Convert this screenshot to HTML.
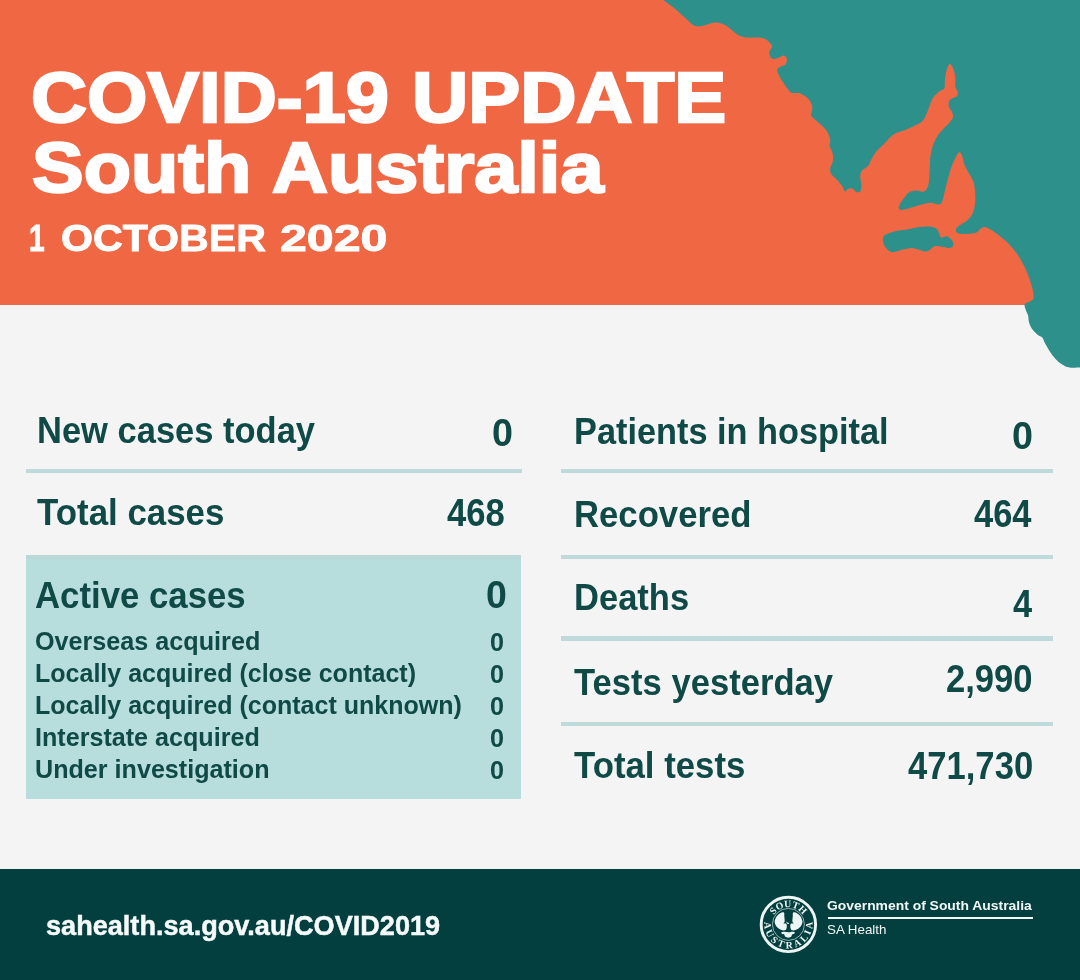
<!DOCTYPE html>
<html lang="en">
<head>
<meta charset="utf-8">
<title>COVID-19 Update South Australia</title>
<style>
html,body{margin:0;padding:0;}
body{width:1080px;height:980px;position:relative;overflow:hidden;background:#f4f4f5;font-family:"Liberation Sans",sans-serif;}
.t{position:absolute;white-space:nowrap;line-height:1;transform-origin:0 0;font-weight:bold;color:#0f4a47;}
#banner{position:absolute;left:0;top:0;width:1080px;height:305px;background:#f06744;}
#map{position:absolute;left:0;top:0;width:1080px;height:400px;}
.title,.date{color:#fff;}
.title{-webkit-text-stroke:2.4px #fff;}
.date{-webkit-text-stroke:0.9px #fff;}
.rule{position:absolute;height:4.4px;background:#bedadb;}
#box{position:absolute;left:25.6px;top:555.2px;width:495.5px;height:244.1px;background:#b8dddd;}
#footer{position:absolute;left:0;top:868.5px;width:1080px;height:111.5px;background:#033f3e;}
.url,.gov,.sah{color:#f2f7f7;}
.url{-webkit-text-stroke:0.5px #f6fafa;color:#f6fafa;}
.sah{font-weight:normal;}
#govrule{position:absolute;left:828px;top:916.5px;width:204.5px;height:2.4px;background:#f2f7f7;}
#logo{position:absolute;left:756px;top:892px;width:64px;height:64px;}
</style>
</head>
<body>
<div id="banner"></div>
<svg id="map" viewBox="0 0 1080 400">
<path fill="#2d908b" d="M663.2 0.0C664.5 0.9 668.1 3.5 670.8 5.6C673.5 7.7 676.4 10.1 679.2 12.5C682.0 14.9 685.2 18.0 687.5 20.1C689.8 22.2 691.1 23.9 693.0 25.0C694.9 26.1 696.5 26.4 698.6 26.4C700.7 26.4 703.3 25.6 705.6 25.0C707.9 24.4 710.2 23.2 712.5 22.9C714.8 22.5 717.1 22.4 719.4 22.9C721.7 23.4 724.1 24.3 726.4 25.7C728.7 27.1 731.2 29.7 733.3 31.3C735.4 32.9 736.6 34.4 738.9 35.4C741.2 36.4 744.0 37.1 747.2 37.5C750.4 37.9 755.3 37.3 758.3 37.5C761.3 37.7 763.4 38.1 765.3 38.9C767.1 39.7 768.2 41.1 769.4 42.4C770.5 43.7 772.2 45.0 772.2 46.5C772.2 48.0 769.8 49.8 769.4 51.4C769.0 53.0 769.4 55.0 770.1 56.3C770.8 57.6 772.1 58.8 773.6 59.0C775.1 59.2 777.5 58.2 779.2 57.6C780.9 57.0 782.7 55.4 784.0 55.6C785.3 55.8 786.6 57.5 786.8 59.0C787.0 60.5 786.4 63.3 785.4 64.6C784.4 65.9 782.0 65.9 780.6 66.7C779.2 67.5 777.3 67.9 777.1 69.4C776.9 70.9 778.2 73.5 779.2 75.7C780.2 77.9 781.9 80.4 783.3 82.6C784.6 84.8 785.9 86.9 787.3 88.6C788.7 90.3 789.8 92.2 791.6 92.9C793.5 93.6 796.0 92.3 798.4 92.9C800.8 93.5 803.7 95.0 805.7 96.5C807.7 98.0 809.5 100.0 810.6 102.0C811.7 104.0 812.3 106.0 812.4 108.2C812.5 110.5 810.5 113.4 811.2 115.5C811.9 117.6 814.8 119.2 816.7 121.0C818.7 122.8 821.0 124.5 822.9 126.5C824.8 128.4 826.6 130.4 827.8 132.7C829.0 134.9 829.9 137.8 830.2 140.0C830.5 142.2 829.2 143.8 829.6 146.1C830.0 148.3 832.2 150.8 832.7 153.5C833.2 156.2 833.1 159.6 832.7 162.0C832.3 164.4 830.4 166.1 830.2 168.2C830.0 170.2 830.2 172.3 831.4 174.3C832.6 176.3 835.8 178.4 837.6 180.4C839.4 182.4 841.2 184.7 842.4 186.5C843.6 188.3 844.0 191.0 844.9 191.4C845.8 191.8 846.8 189.5 848.0 189.0C849.2 188.5 850.8 187.9 852.2 188.4C853.6 188.9 855.2 191.5 856.5 192.0C857.8 192.5 859.4 192.5 860.2 191.4C861.0 190.3 861.4 187.8 861.4 185.3C861.4 182.9 860.1 179.1 860.2 176.7C860.3 174.2 860.7 172.4 862.0 170.6C863.3 168.8 866.6 167.7 868.2 165.7C869.8 163.7 870.4 160.8 871.8 158.4C873.2 156.0 874.7 153.4 876.7 151.0C878.8 148.6 881.3 146.4 884.1 143.7C886.9 140.9 890.1 136.8 893.5 134.5C896.9 132.2 900.8 131.7 904.5 130.2C908.2 128.7 912.4 126.9 915.5 125.3C918.6 123.7 921.0 122.6 922.9 120.4C924.8 118.2 925.9 115.2 927.1 112.4C928.3 109.7 929.1 106.6 930.2 103.9C931.3 101.2 932.3 98.7 933.9 96.5C935.5 94.3 938.3 92.3 940.0 91.0C941.7 89.7 943.5 90.3 944.3 88.6C945.1 86.9 944.6 83.4 944.9 80.6C945.2 77.8 945.5 74.5 946.1 72.0C946.7 69.5 947.9 66.6 948.6 65.3C949.3 64.0 949.6 63.4 950.4 64.1C951.2 64.8 952.7 67.2 953.5 69.6C954.3 71.9 955.0 75.3 955.3 78.2C955.6 81.1 954.9 84.4 955.3 86.7C955.7 89.0 957.6 90.6 957.8 92.2C958.0 93.8 957.6 95.4 956.5 96.5C955.4 97.6 952.3 98.0 951.0 99.0C949.7 100.0 948.9 101.3 948.6 102.7C948.3 104.1 948.6 106.0 949.2 107.6C949.8 109.2 951.6 110.8 952.2 112.4C952.8 114.0 953.3 115.7 952.9 117.3C952.5 118.9 951.3 120.3 949.8 122.2C948.3 124.1 945.7 126.2 943.7 128.4C941.7 130.7 939.3 133.0 937.6 135.7C935.9 138.3 934.4 141.2 933.3 144.3C932.2 147.4 931.3 151.1 930.8 154.1C930.2 157.1 930.2 158.8 930.0 162.2C929.8 165.6 929.7 170.6 929.4 174.5C929.1 178.4 929.1 182.7 928.2 185.5C927.3 188.3 925.9 190.8 923.9 191.6C921.9 192.4 919.0 190.3 916.5 190.4C914.0 190.5 911.2 191.0 909.2 192.2C907.2 193.4 905.8 195.9 904.3 197.8C902.8 199.8 900.9 202.2 900.0 203.9C899.1 205.6 898.4 207.2 898.8 208.2C899.2 209.2 900.3 210.1 902.4 210.0C904.5 209.9 908.4 208.5 911.6 207.6C914.8 206.7 918.1 205.3 921.4 204.5C924.7 203.7 928.3 202.7 931.2 202.7C934.1 202.7 936.8 204.7 938.6 204.5C940.4 204.3 941.2 203.6 942.2 201.4C943.2 199.2 943.8 195.3 944.7 191.6C945.6 187.9 946.7 183.5 947.8 179.4C948.9 175.3 950.1 170.8 951.4 167.1C952.7 163.4 954.5 159.8 955.7 157.3C956.9 154.9 957.8 152.8 958.8 152.4C959.8 152.0 960.8 152.7 961.8 154.9C962.8 157.2 963.5 162.4 964.9 165.9C966.3 169.4 968.9 172.6 970.4 175.7C971.9 178.8 973.3 180.4 974.1 184.3C974.9 188.2 975.4 194.5 975.3 199.0C975.2 203.5 974.7 207.7 973.5 211.2C972.3 214.7 970.1 217.6 968.0 219.8C965.9 222.1 962.6 223.3 960.6 224.7C958.6 226.1 956.9 227.1 956.3 228.4C955.7 229.7 955.6 231.8 956.9 232.7C958.2 233.6 961.1 233.9 964.3 233.9C967.5 233.9 973.2 233.5 975.9 232.7C978.5 231.9 978.8 229.9 980.2 229.0C981.6 228.1 982.6 226.9 984.5 227.1C986.4 227.3 988.9 228.4 991.8 230.2C994.6 231.9 998.3 234.8 1001.6 237.6C1004.9 240.3 1008.5 243.5 1011.4 246.7C1014.3 249.8 1016.5 253.0 1018.8 256.5C1021.0 260.0 1023.1 263.7 1024.9 267.6C1026.7 271.5 1028.5 275.9 1029.8 279.8C1031.1 283.7 1032.3 287.7 1032.9 290.8C1033.5 293.9 1033.9 296.5 1033.5 298.2C1033.1 299.9 1031.9 300.2 1030.4 301.2C1028.9 302.2 1025.4 302.8 1024.7 304.3C1024.0 305.8 1025.4 308.5 1026.0 310.4C1026.6 312.3 1027.6 313.4 1028.1 315.5C1028.6 317.6 1028.3 320.3 1029.1 322.7C1029.9 325.1 1031.2 327.8 1032.7 329.8C1034.2 331.8 1036.2 333.6 1037.8 334.9C1039.4 336.2 1041.1 336.0 1042.3 337.4C1043.5 338.8 1043.8 341.0 1044.9 343.1C1046.0 345.2 1047.3 347.6 1049.0 350.2C1050.7 352.8 1052.9 356.0 1055.1 358.4C1057.3 360.8 1059.8 363.0 1062.2 364.5C1064.6 366.0 1066.4 367.1 1069.4 367.6C1072.4 368.1 1078.2 367.6 1080.0 367.6L1080 0Z"/>
<path fill="#2d908b" d="M882.9 238.2C883.2 236.5 884.0 235.6 885.9 234.5C887.8 233.4 891.0 232.2 894.5 231.4C898.0 230.6 902.6 230.3 906.7 229.6C910.8 228.9 915.3 227.6 919.0 227.1C922.7 226.6 925.9 226.3 928.8 226.5C931.6 226.7 934.4 227.3 936.1 228.4C937.8 229.5 938.4 231.8 939.2 233.3C940.0 234.8 939.7 237.1 941.0 237.6C942.3 238.1 945.3 235.8 947.1 236.3C948.9 236.8 951.0 239.1 952.0 240.6C953.0 242.1 953.7 244.3 953.3 245.5C952.9 246.7 951.5 247.8 949.6 248.0C947.8 248.2 944.7 247.0 942.2 246.7C939.8 246.4 936.9 245.6 934.9 246.1C932.9 246.6 931.6 248.9 930.0 249.8C928.4 250.7 926.9 251.6 925.1 251.6C923.3 251.6 921.2 250.4 919.0 249.8C916.8 249.2 914.5 248.0 911.6 248.0C908.7 248.0 904.8 249.1 901.8 249.8C898.8 250.5 895.5 252.1 893.3 252.2C891.1 252.3 889.9 251.6 888.4 250.4C886.9 249.2 885.0 246.9 884.1 244.9C883.2 242.9 882.6 239.9 882.9 238.2Z"/>
</svg>
<div class="rule" style="left:25.6px;top:469.1px;width:496px;"></div>
<div id="box"></div>
<div class="rule" style="left:25.6px;top:555.2px;width:495.5px;height:3.8px;background:#bbd8d9;"></div>
<div class="rule" style="left:561px;top:469.1px;width:492px;"></div>
<div class="rule" style="left:561px;top:554.7px;width:492px;"></div>
<div class="rule" style="left:561px;top:636.3px;width:492px;"></div>
<div class="rule" style="left:561px;top:721.8px;width:492px;"></div>
<div id="footer"></div>
<div id="govrule"></div>
<svg id="logo" viewBox="0 0 64 64">
<defs><path id="arcTop" d="M17.50 23.80A17.2 17.2 0 0 1 47.30 23.80"/><path id="arcBot" d="M8.76 28.23A24.0 24.0 0 1 0 56.04 28.23"/></defs>
<circle cx="32.4" cy="32.4" r="27.2" fill="none" stroke="#eef6f5" stroke-width="2.9"/>
<circle cx="32.4" cy="32.4" r="16" fill="none" stroke="#eef6f5" stroke-width="0.8" opacity="0.75"/>
<path fill="#eef6f5" d="M27.90 20.40C27.22 19.90 25.38 20.57 24.20 21.20C23.02 21.83 21.72 22.88 20.80 24.20C19.88 25.52 18.88 27.60 18.70 29.10C18.52 30.60 19.05 31.97 19.70 33.20C20.35 34.43 21.50 35.65 22.60 36.50C23.70 37.35 25.15 38.03 26.30 38.30C27.45 38.57 28.78 38.47 29.50 38.10C30.22 37.73 30.38 36.92 30.60 36.10C30.82 35.28 30.90 33.95 30.80 33.20C30.70 32.45 30.55 31.93 30.00 31.60C29.45 31.27 27.72 31.55 27.50 31.20C27.28 30.85 28.57 30.67 28.70 29.50C28.83 28.33 28.43 25.72 28.30 24.20C28.17 22.68 28.58 20.90 27.90 20.40Z"/>
<path fill="#eef6f5" d="M37.20 20.40C37.88 19.90 39.72 20.57 40.90 21.20C42.08 21.83 43.38 22.88 44.30 24.20C45.22 25.52 46.22 27.60 46.40 29.10C46.58 30.60 46.05 31.97 45.40 33.20C44.75 34.43 43.60 35.65 42.50 36.50C41.40 37.35 39.95 38.03 38.80 38.30C37.65 38.57 36.32 38.47 35.60 38.10C34.88 37.73 34.72 36.92 34.50 36.10C34.28 35.28 34.20 33.95 34.30 33.20C34.40 32.45 34.55 31.93 35.10 31.60C35.65 31.27 37.38 31.55 37.60 31.20C37.82 30.85 36.53 30.67 36.40 29.50C36.27 28.33 36.67 25.72 36.80 24.20C36.93 22.68 36.52 20.90 37.20 20.40Z"/>
<path fill="#eef6f5" d="M25.10 40.60C25.43 40.22 27.08 39.77 28.30 39.70C29.52 39.63 31.03 40.20 32.40 40.20C33.77 40.20 35.42 39.63 36.50 39.70C37.58 39.77 38.63 40.25 38.90 40.60C39.17 40.95 38.57 41.47 38.10 41.80C37.63 42.13 36.57 42.13 36.10 42.60C35.63 43.07 35.92 44.08 35.30 44.60C34.68 45.12 33.43 45.70 32.40 45.70C31.37 45.70 29.78 45.12 29.10 44.60C28.42 44.08 28.77 43.03 28.30 42.60C27.83 42.17 26.83 42.33 26.30 42.00C25.77 41.67 24.77 40.98 25.10 40.60Z"/>
<path fill="#eef6f5" d="M30.0 29.5L33.3 31.5L31.8 32.2L30.8 31.0Z"/>
<text font-family="'Liberation Serif',serif" font-weight="bold" font-size="9.8" fill="#eef6f5" text-anchor="middle"><textPath href="#arcTop" startOffset="50%" textLength="34" lengthAdjust="spacing">SOUTH</textPath></text>
<text font-family="'Liberation Serif',serif" font-weight="bold" font-size="9.8" fill="#eef6f5" text-anchor="middle"><textPath href="#arcBot" startOffset="50%" textLength="80" lengthAdjust="spacing">AUSTRALIA</textPath></text>
</svg>
<div class="t title" id="w1" style="left:31.11px;top:63.00px;font-size:70.5px;transform:scaleX(1.1003);">COVID-19</div>
<div class="t title" id="w2" style="left:412.29px;top:63.00px;font-size:70.5px;transform:scaleX(1.1043);">UPDATE</div>
<div class="t title" id="w3" style="left:32.19px;top:133.00px;font-size:70.5px;transform:scaleX(1.0980);">South</div>
<div class="t title" id="w4" style="left:272.30px;top:133.00px;font-size:70.5px;transform:scaleX(1.0987);">Australia</div>
<div class="t date" id="d1" style="left:29.17px;top:220.00px;font-size:37.3px;transform:scaleX(0.7556);">1</div>
<div class="t date" id="d2" style="left:61.30px;top:220.00px;font-size:37.3px;transform:scaleX(1.1025);">OCTOBER</div>
<div class="t date" id="d3" style="left:280.01px;top:220.00px;font-size:37.3px;transform:scaleX(1.2950);">2020</div>
<div class="t lab" id="l1" style="left:36.98px;top:413.00px;font-size:36.0px;transform:scaleX(0.9583);">New cases today</div>
<div class="t lab" id="l2" style="left:37.00px;top:495.00px;font-size:36.0px;transform:scaleX(0.9687);">Total cases</div>
<div class="t lab" id="l3" style="left:35.45px;top:578.00px;font-size:36.0px;transform:scaleX(0.9657);">Active cases</div>
<div class="t lab" id="r1" style="left:573.84px;top:414.00px;font-size:36.0px;transform:scaleX(0.9533);">Patients in hospital</div>
<div class="t lab" id="r2" style="left:573.82px;top:497.00px;font-size:36.0px;transform:scaleX(0.9639);">Recovered</div>
<div class="t lab" id="r3" style="left:573.83px;top:580.00px;font-size:36.0px;transform:scaleX(0.9594);">Deaths</div>
<div class="t lab" id="r4" style="left:573.75px;top:665.00px;font-size:36.0px;transform:scaleX(0.9614);">Tests yesterday</div>
<div class="t lab" id="r5" style="left:573.75px;top:748.00px;font-size:36.0px;transform:scaleX(0.9659);">Total tests</div>
<div class="t sub" id="s1" style="left:35.46px;top:628.00px;font-size:26.7px;transform:scaleX(0.9432);">Overseas acquired</div>
<div class="t sub" id="s2" style="left:34.73px;top:660.00px;font-size:26.7px;transform:scaleX(0.9376);">Locally acquired (close contact)</div>
<div class="t sub" id="s3" style="left:34.73px;top:692.00px;font-size:26.7px;transform:scaleX(0.9378);">Locally acquired (contact unknown)</div>
<div class="t sub" id="s4" style="left:34.72px;top:724.00px;font-size:26.7px;transform:scaleX(0.9412);">Interstate acquired</div>
<div class="t sub" id="s5" style="left:34.88px;top:756.00px;font-size:26.7px;transform:scaleX(0.9415);">Under investigation</div>
<div class="t num" id="n1" style="left:491.80px;top:414.00px;font-size:38.9px;transform:scaleX(0.9697);">0</div>
<div class="t num" id="n2" style="left:446.97px;top:494.00px;font-size:38.9px;transform:scaleX(0.8912);">468</div>
<div class="t num" id="n3" style="left:485.51px;top:576.00px;font-size:38.9px;transform:scaleX(0.9643);">0</div>
<div class="t sub" id="z1" style="left:490.25px;top:629.00px;font-size:26.6px;transform:scaleX(0.9462);">0</div>
<div class="t sub" id="z2" style="left:490.25px;top:661.00px;font-size:26.6px;transform:scaleX(0.9462);">0</div>
<div class="t sub" id="z3" style="left:490.25px;top:693.00px;font-size:26.6px;transform:scaleX(0.9462);">0</div>
<div class="t sub" id="z4" style="left:490.25px;top:725.00px;font-size:26.6px;transform:scaleX(0.9462);">0</div>
<div class="t sub" id="z5" style="left:490.25px;top:757.00px;font-size:26.6px;transform:scaleX(0.9462);">0</div>
<div class="t num" id="m1" style="left:1012.40px;top:417.00px;font-size:38.9px;transform:scaleX(0.9697);">0</div>
<div class="t num" id="m2" style="left:974.17px;top:495.00px;font-size:38.9px;transform:scaleX(0.8866);">464</div>
<div class="t num" id="m3" style="left:1012.87px;top:585.00px;font-size:38.9px;transform:scaleX(0.8839);">4</div>
<div class="t num" id="m4" style="left:946.41px;top:660.00px;font-size:38.9px;transform:scaleX(0.8895);">2,990</div>
<div class="t num" id="m5" style="left:908.07px;top:747.00px;font-size:38.9px;transform:scaleX(0.8901);">471,730</div>
<div class="t url" id="u1" style="left:45.66px;top:912.00px;font-size:28px;transform:scaleX(0.9679);">sahealth.sa.gov.au/COVID2019</div>
<div class="t gov" id="g1" style="left:827.48px;top:899.00px;font-size:13.4px;transform:scaleX(1.0371);">Government of South Australia</div>
<div class="t sah" id="g2" style="left:827.10px;top:923.00px;font-size:13.4px;transform:scaleX(0.9984);">SA Health</div>
</body>
</html>
